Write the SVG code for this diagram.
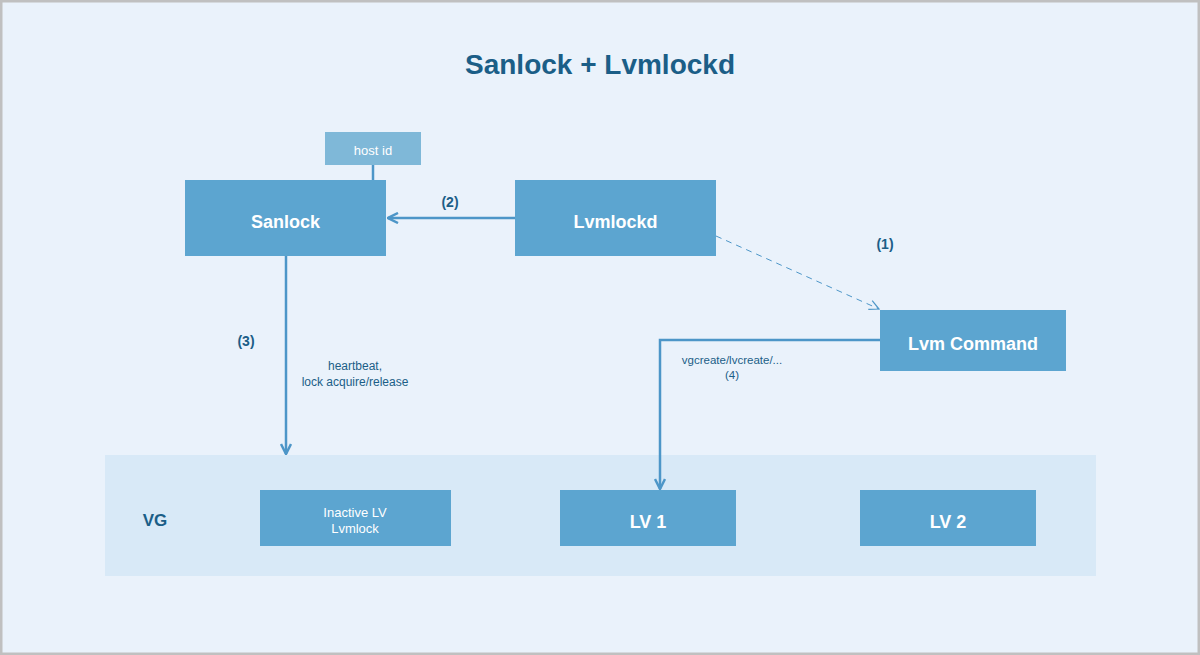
<svg xmlns="http://www.w3.org/2000/svg" width="1200" height="655" viewBox="0 0 1200 655">
<style>
.box{fill:#5ca5d0}
.bt{font-family:"Liberation Sans",Arial,sans-serif;font-weight:bold;fill:#ffffff;font-size:18px;text-anchor:middle}
.nt{font-family:"Liberation Sans",Arial,sans-serif;fill:#ffffff;font-size:13px;text-anchor:middle}
.lbl{font-family:"Liberation Sans",Arial,sans-serif;fill:#1b5e87;font-size:12px;text-anchor:middle}
.lblb{font-family:"Liberation Sans",Arial,sans-serif;fill:#1b5e87;font-size:14px;font-weight:bold;text-anchor:middle}
.ln{stroke:#4d96c8;stroke-width:2.5;fill:none}
</style>
<defs>
<marker id="ah" viewBox="0 0 10 10" refX="9" refY="5" markerWidth="5" markerHeight="5" orient="auto" markerUnits="strokeWidth">
<path d="M1,1 L9,5 L1,9" fill="none" stroke="#4d96c8" stroke-width="2"/>
</marker>
<marker id="ah2" viewBox="0 0 10 10" refX="9" refY="5" markerWidth="12" markerHeight="12" orient="auto" markerUnits="strokeWidth">
<path d="M1,1 L9,5 L1,9" fill="none" stroke="#4d96c8" stroke-width="1"/>
</marker>
</defs>
<rect x="0" y="0" width="1200" height="655" fill="#eaf2fb"/>
<rect x="1" y="1" width="1198" height="653" fill="none" stroke="#c0c0c0" stroke-width="3"/>
<text x="600" y="74" font-family="'Liberation Sans',Arial,sans-serif" font-weight="bold" font-size="28" fill="#1b5e87" text-anchor="middle">Sanlock + Lvmlockd</text>
<g id="vg">
<rect x="105" y="455" width="991" height="121" fill="#d8e9f7"/>
<text x="155" y="526" class="lblb" style="font-size:17px">VG</text>
</g>
<g id="connectors">
<line x1="373" y1="165" x2="373" y2="180" class="ln"/>
<line x1="515" y1="218" x2="388" y2="218" class="ln" marker-end="url(#ah)"/>
<line x1="716" y1="236" x2="879" y2="309" stroke="#4d96c8" stroke-width="1" stroke-dasharray="6,5" fill="none" marker-end="url(#ah2)"/>
<polyline points="880,340 660,340 660,489" class="ln" marker-end="url(#ah)"/>
<line x1="286" y1="256" x2="286" y2="454" class="ln" marker-end="url(#ah)"/>
<text x="450" y="207" class="lblb">(2)</text>
<text x="885" y="249" class="lblb">(1)</text>
<text x="246" y="346" class="lblb">(3)</text>
<text x="355" y="370" class="lbl">heartbeat,</text>
<text x="355" y="386" class="lbl">lock acquire/release</text>
<text x="732" y="364" class="lbl" style="font-size:11.5px">vgcreate/lvcreate/...</text>
<text x="732" y="379" class="lbl" style="font-size:11.5px">(4)</text>
</g>
<g id="hostid">
<rect x="325" y="132" width="96" height="33" fill="#7fb8d8"/>
<text x="373" y="155" class="nt">host id</text>
</g>
<g id="sanlock">
<rect x="185" y="180" width="201" height="76" class="box"/>
<text x="285.5" y="228" class="bt">Sanlock</text>
</g>
<g id="lvmlockd">
<rect x="515" y="180" width="201" height="76" class="box"/>
<text x="615.5" y="228" class="bt">Lvmlockd</text>
</g>
<g id="lvmcommand">
<rect x="880" y="310" width="186" height="61" class="box"/>
<text x="973" y="350" class="bt">Lvm Command</text>
</g>
<g id="inactive">
<rect x="260" y="490" width="191" height="56" class="box"/>
<text x="355" y="517" class="nt">Inactive LV</text>
<text x="355" y="533" class="nt">Lvmlock</text>
</g>
<g id="lv1">
<rect x="560" y="490" width="176" height="56" class="box"/>
<text x="648" y="528" class="bt">LV 1</text>
</g>
<g id="lv2">
<rect x="860" y="490" width="176" height="56" class="box"/>
<text x="948" y="528" class="bt">LV 2</text>
</g>
</svg>
